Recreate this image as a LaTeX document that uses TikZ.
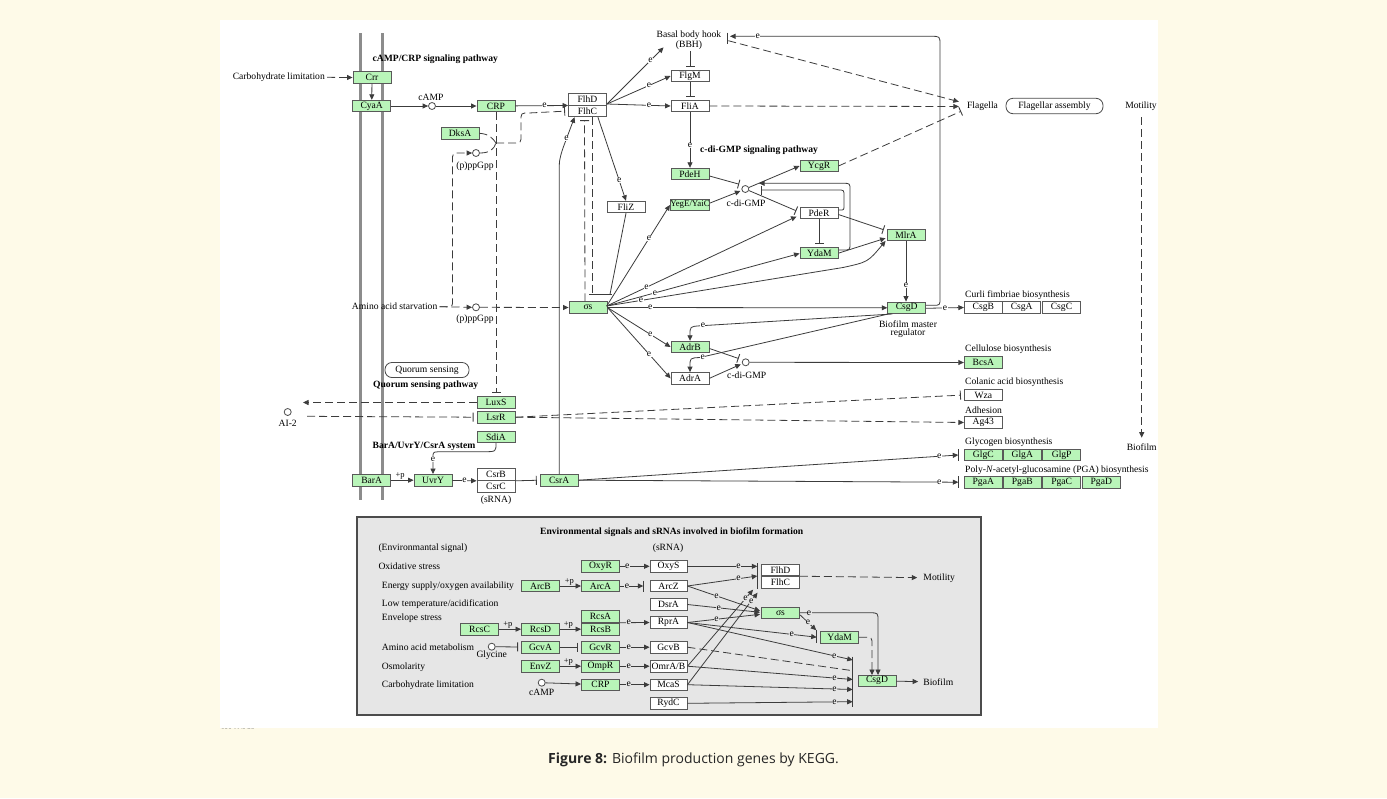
\documentclass[tikz,border=0pt]{standalone}
\usepackage{fontspec}
\setmainfont{Liberation Serif}
\newfontfamily\capfont{Open Sans}
\usetikzlibrary{arrows.meta,calc}
\definecolor{kgreen}{RGB}{185,245,185}
\definecolor{cream}{RGB}{254,250,232}
\definecolor{lin}{RGB}{60,60,60}
\definecolor{boxbg}{RGB}{230,230,230}
\definecolor{mem}{RGB}{140,140,140}
\newcommand\kf{\fontsize{9.6}{10.5}\selectfont}
\begin{document}
\begin{tikzpicture}[x=1pt,y=-1pt,font=\kf,
  gene/.style={draw=black!65, line width=0.9pt, fill=kgreen, minimum width=38pt, minimum height=11.5pt, inner sep=0pt},
  wbox/.style={gene, fill=white},
  txt/.style={inner sep=0pt},
  btxt/.style={inner sep=0pt, font=\kf\bfseries},
  cmp/.style={circle, draw=black!70, line width=0.8pt, fill=white, minimum size=7pt, inner sep=0pt},
  con/.style={draw=lin, line width=0.8pt},
  act/.style={con, -{Triangle[length=5.5pt,width=5pt]}},
  inh/.style={con, -{Bar[width=9pt,line width=0.9pt]}, shorten >=3pt},
  dsh/.style={dash pattern=on 8pt off 4pt},
  el/.style={fill=white, inner sep=0.4pt, font=\kf},
  elg/.style={el, fill=boxbg},
  pl/.style={inner sep=0pt, font=\fontsize{8.5}{9}\selectfont, anchor=south},
  pth/.style={draw=black!70, line width=0.8pt, rounded corners=7pt, minimum height=15pt, inner xsep=6pt, fill=white},
]
\useasboundingbox (0,0) rectangle (1387,798);
\fill[cream] (0,0) rectangle (1387,798);
\fill[white] (220,20) rectangle (1158,728);
\node[txt, font=\fontsize{7}{8}\selectfont, text=black!60, anchor=west] (stamp) at (221,731) {026 11/8/22};
\fill[cream] (215,728.5) rectangle (320,740);

% membrane
\draw[mem, line width=3pt] (360,33) -- (360,500);
\draw[mem, line width=3pt] (382.7,33) -- (382.7,500);

% ---------- top left ----------
\node[btxt] (t1) at (435.3,59.3) {cAMP/CRP signaling pathway};
\node[txt, anchor=east] (carb) at (325,77.3) {Carbohydrate limitation};
\node[gene] (crr) at (372,77.5) {Crr};
\node[gene] (cyaa) at (371.7,106) {CyaA};
\node[cmp] (camp) at (432,106) {};
\node[txt] (camplab) at (431,97) {cAMP};
\node[gene] (crp) at (496,106) {CRP};
\node[gene] (dksa) at (460,133.3) {DksA};
\node[cmp] (ppg1) at (476,153) {};
\node[txt] (ppg1lab) at (475,165.7) {(p)ppGpp};
\coordinate (jn) at (496,143);
\node[txt, anchor=east] (aas) at (437.5,306.7) {Amino acid starvation};
\node[cmp] (ppg2) at (476,307.3) {};
\node[txt] (ppg2lab) at (475,319) {(p)ppGpp};

\node[wbox] (flhd) at (587.5,99.3) {FlhD};
\node[wbox] (flhc) at (587.5,111) {FlhC};
\node[txt, align=center, font=\fontsize{9.6}{8.5}\selectfont] (bbh) at (689,40) {Basal body hook\\(BBH)};
\node[wbox] (flgm) at (690,76) {FlgM};
\node[wbox] (flia) at (690,106) {FliA};
\node[txt] (flag) at (982.5,106.5) {Flagella};
\node[pth, minimum width=97pt] (fasm) at (1054.5,106) {Flagellar assembly};
\node[txt] (mot) at (1141,106.5) {Motility};
\node[txt] (bio) at (1141.7,447.3) {Biofilm};

\node[wbox] (fliz) at (626,207) {FliZ};
\node[btxt] (t2) at (759,150) {c-di-GMP signaling pathway};
\node[gene] (pdeh) at (690,174) {PdeH};
\node[gene, font=\fontsize{8.8}{9}\selectfont] (yege) at (690,205) {YegE/YaiC};
\node[cmp] (cdg1) at (745.3,189) {};
\node[txt] (cdg1lab) at (746,203.3) {c-di-GMP};
\node[gene] (ycgr) at (819,166) {YcgR};
\node[wbox] (pder) at (819,213) {PdeR};
\node[gene] (ydam) at (819.5,253) {YdaM};
\node[gene] (mlra) at (906,234.7) {MlrA};
\node[gene] (csgd) at (906.7,307.8) {CsgD};
\node[txt, align=center, font=\fontsize{9.6}{8}\selectfont] (bmr) at (908,329) {Biofilm master\\regulator};
\node[gene] (sig) at (588,307.5) {σs};
\node[gene] (adrb) at (690,347) {AdrB};
\node[wbox] (adra) at (690,378.3) {AdrA};
\node[cmp] (cdg2) at (745.7,362.3) {};
\node[txt] (cdg2lab) at (746.7,375) {c-di-GMP};

% right column
\node[txt, anchor=west] (lcurli) at (965,295.3) {Curli fimbriae biosynthesis};
\node[wbox] (csgb) at (983.3,307.5) {CsgB};
\node[wbox] (csga) at (1021.7,307.5) {CsgA};
\node[wbox] (csgc) at (1061.5,307.5) {CsgC};
\node[txt, anchor=west] (lcell) at (965,349.3) {Cellulose biosynthesis};
\node[gene] (bcsa) at (983.3,362.5) {BcsA};
\node[txt, anchor=west] (lcol) at (965,382.3) {Colanic acid biosynthesis};
\node[wbox] (wza) at (983.3,395) {Wza};
\node[txt, anchor=west] (ladh) at (965,410.7) {Adhesion};
\node[wbox] (ag43) at (983.3,422.5) {Ag43};
\node[txt, anchor=west] (lgly) at (965,441.7) {Glycogen biosynthesis};
\node[gene] (glgc) at (983.3,455) {GlgC};
\node[gene] (glga) at (1022.3,455) {GlgA};
\node[gene] (glgp) at (1061.7,455) {GlgP};
\node[txt, anchor=west] (lpga) at (965,470) {Poly-\textit{N}-acetyl-glucosamine (PGA) biosynthesis};
\node[gene] (pgaa) at (983.3,482.2) {PgaA};
\node[gene] (pgab) at (1022.3,482.2) {PgaB};
\node[gene] (pgac) at (1061.7,482.2) {PgaC};
\node[gene] (pgad) at (1101.3,482.2) {PgaD};

% lower left
\node[pth, minimum width=84pt] (qs) at (427,370) {Quorum sensing};
\node[btxt] (t3) at (425.7,385.7) {Quorum sensing pathway};
\node[gene] (luxs) at (496,402.5) {LuxS};
\node[gene] (lsrr) at (496,417.2) {LsrR};
\node[gene] (sdia) at (496,437) {SdiA};
\node[cmp] (ai2) at (287.7,412) {};
\node[txt] (ai2lab) at (287.7,423.7) {AI-2};
\node[btxt] (t4) at (424,446.7) {BarA/UvrY/CsrA system};
\node[gene] (bara) at (371.7,480.2) {BarA};
\node[gene] (uvry) at (433,480.2) {UvrY};
\node[wbox] (csrb) at (496,474.6) {CsrB};
\node[wbox] (csrc) at (496,486.4) {CsrC};
\node[txt] (srna) at (496,500) {(sRNA)};
\node[gene] (csra) at (559.2,480.2) {CsrA};

% ---------- top connectors ----------
\draw[act, dsh, shorten <=2pt] (carb.east) -- (crr.west);
\draw[act] (crr) -- (cyaa);
\draw[act] (cyaa) -- (camp);
\draw[act] (camp) -- (crp);
\draw[act] (crp) -- node[el, pos=0.55]{e} (flhd.south west);
\draw[inh, dsh] (crp) -- (luxs.north);
\draw[con, dsh] (dksa.east) .. controls (490,134) and (493,139) .. (jn);
\draw[con, dsh] (ppg1.east) .. controls (490,153) and (494,149) .. (jn);
\draw[inh, dsh] (jn) -- (513,143) .. controls (521,143) .. (521,135) -- (521,121) .. controls (521,113) .. (529,113) -- (flhc.west);
\draw[act, dsh, shorten <=2pt] (aas.east) -- (ppg2.west);
\draw[act, dsh, shorten <=2pt] (aas.east) -- (447,306.7) .. controls (452.5,306.7) .. (452.5,300) -- (452.5,161) .. controls (452.5,153) .. (460,153) -- (ppg1.west);
\draw[act, dsh] (ppg2) -- (sig.west);
\coordinate (luxsend) at (303,402.5);
\draw[act, dsh] (luxs.west) -- (luxsend);
\coordinate (ai2s) at (307,416.3);
\draw[inh, dsh] (ai2s) -- (lsrr.west);
\draw[inh, dsh] (lsrr.east) -- (wza.west);
\draw[act, dsh] (lsrr.east) -- (ag43.west);
\draw[act] (sdia.south) .. controls (496,451.7) .. (484,451.7) -- (445,451.7) .. controls (433.5,451.7) .. (433,455) -- node[el, pos=0.2]{e} (uvry.north);
\draw[act] (bara) -- node[pl, pos=0.4]{+p} (uvry);
\draw[act] (uvry) -- node[el]{e} (csrb.south west);
\draw[inh] (csrb.south east) -- (csra.west);
\draw[act] (csra.north) -- (559.2,175) .. controls (559.2,160) .. (563,148) -- node[el, pos=0.3]{e} ($(flhc.south west)+(6.5,0)$);
\coordinate (glgbar) at (958.3,455);
\coordinate (pgabar) at (958.3,482.2);
\draw[act] (csra.east) -- node[el, pos=0.95]{e} (glgbar);
\draw[act] (csra.east) -- node[el, pos=0.95]{e} (pgabar);
\draw[con] (958.3,449.2) -- (958.3,460.8);
\draw[con] (958.3,476.4) -- (958.3,488);

\coordinate (fo) at (607,104);
\draw[act] (fo) -- node[el, pos=0.77]{e} ($(bbh.south west)+(7,-2)$);
\draw[act] (fo) -- node[el, pos=0.66]{e} (flgm.west);
\draw[act] (fo) -- node[el, pos=0.66]{e} (flia.west);
\draw[inh] ($(bbh.south)+(1,2)$) -- (flgm.north);
\draw[inh] (flgm) -- (flia);
\draw[act] (flia) -- node[el, pos=0.6]{e} (pdeh);
\draw[act, dsh, shorten >=8pt] (flia.east) -- (flag.west);
\draw[con] (727.3,32.7) -- (727.3,44);
\coordinate (bbhd) at (728.3,40.7);
\draw[act, dsh] (bbhd) -- ($(flag.west)+(-8,-4.8)$);
\draw[inh, dsh] (ycgr.east) -- ($(flag.west)+(-3,3.5)$);
\draw[act] ($(csgd.east)+(0,-2.5)$) -- (933,305.3) .. controls (940,305.3) .. (940,298) -- (940,45) .. controls (940,36.3) .. (931,36.3) -- node[el, pos=0.862]{e} (730,36.3);
\draw[act] ($(csgd.east)+(0,0.5)$) -- node[el]{e} (csgb.west);
\draw[act] ($(flhc.south east)+(-9,0)$) -- node[el, pos=0.755]{e} (fliz.north);
\draw[con] (589.3,294.3) -- (611.7,294.3);
\draw[con, dsh] ($(flhc.south)+(5,0)$) -- (592.5,294.3);
\draw[con] (fliz.south) -- (610,294.3);
\draw[inh, dsh] ($(sig.north)+(-3,0)$) -- ($(flhc.south)+(-3,0)$);

\coordinate (so) at (606.7,306);
\draw[act] (so) -- node[el, pos=0.67]{e} (yege.west);
\draw[act] (so) -- node[el, pos=0.21]{e} ($(pder.west)+(-3,3.5)$);
\draw[act] (so) -- node[el, pos=0.25]{e} ($(ydam.west)+(-0.5,0.5)$);
\draw[act] (so) -- node[el, pos=0.145]{e} (843,267.5) .. controls (868,262) .. ($(mlra.south west)+(-1,0)$);
\draw[act] (sig.east) -- node[el, pos=0.153]{e} (csgd.west);
\draw[act] (sig.east) -- node[el, pos=0.68]{e} (adrb.west);
\draw[act] (sig.east) -- node[el, pos=0.66]{e} (adra.west);
\draw[act] (mlra.south) -- node[el, pos=0.73]{e} (mlra.south |- csgd.north);
\draw[act] ($(csgd.south west)+(5,0)$) -- node[el, pos=0.985]{e} (700,325.8) .. controls (690,326.5) .. (690,335) -- (adrb.north);
\draw[act] ($(csgd.south west)+(1,0)$) -- node[el, pos=0.985]{e} (700,357.5) .. controls (690,358) .. (690,366) -- (adra.north);
\draw[inh] ($(adrb.east)+(0,1.5)$) -- (741.5,359.5);
\draw[act] (adra.east) -- ($(cdg2.west)+(-1,2)$);
\draw[act] (cdg2) -- (bcsa.west);
\draw[inh] ($(pdeh.east)+(0,2)$) -- (742,185);
\draw[act] ($(yege.east)+(0,-2)$) -- ($(cdg1.west)+(-1,2)$);
\draw[act] (cdg1) -- (ycgr.west);
\draw[inh] (cdg1) -- ($(pder.west)+(-0.5,-1)$);
\draw[inh] (pder.south) -- (pder.south |- ydam.north);
\draw[inh] ($(pder.east)+(0,1.5)$) -- ($(mlra.west)+(0,-4)$);
\draw[act] (ydam.east) -- ($(mlra.west)+(-1,3.5)$);
\draw[act] ($(ydam.east)+(0,-3)$) -- (843,250) .. controls (850,250) .. (850,243) -- (850,190) .. controls (850,183.3) .. (843,183.3) -- (759,183.3);
\draw[inh] ($(pder.east)+(0,-3)$) -- (840,210) .. controls (844,210) .. (844,205) -- (844,196) .. controls (844,190) .. (838,190) -- (758,190);
\draw[act, dsh] ($(mot.south)+(0.7,6)$) -- ($(bio.north)+(0,-6)$);

% ---------- bottom box ----------
\draw[draw=black!70, line width=1.8pt, fill=boxbg] (357.3,516.7) rectangle (981,715);
\node[btxt] (t5) at (671.7,531.7) {Environmental signals and sRNAs involved in biofilm formation};
\node[txt, anchor=west] (envsig) at (378.3,547.7) {(Environmantal signal)};
\node[txt] (srnah) at (668,547.7) {(sRNA)};
\node[txt, anchor=west] (s1) at (378.3,566.7) {Oxidative stress};
\node[txt, anchor=west] (s2) at (381.7,586) {Energy supply/oxygen availability};
\node[txt, anchor=west] (s3) at (381.7,604.3) {Low temperature/acidification};
\node[txt, anchor=west] (s4) at (381.7,618.3) {Envelope stress};
\node[txt, anchor=west] (s5) at (381.7,647.7) {Amino acid metabolism};
\node[txt, anchor=west] (s6) at (381.7,666.7) {Osmolarity};
\node[txt, anchor=west] (s7) at (381.7,685) {Carbohydrate limitation};

\node[gene] (oxyr) at (600.5,566.3) {OxyR};
\node[gene] (arcb) at (540.5,586) {ArcB};
\node[gene] (arca) at (600.5,586) {ArcA};
\node[gene] (rcsa) at (600.5,616.2) {RcsA};
\node[gene] (rcsb) at (600.5,629.2) {RcsB};
\node[gene] (rcsc) at (479.5,629.2) {RcsC};
\node[gene] (rcsd) at (540.5,629.2) {RcsD};
\node[gene] (gcva) at (540.5,647.2) {GcvA};
\node[gene] (gcvr) at (600.5,647.2) {GcvR};
\node[gene] (envz) at (540.5,666.2) {EnvZ};
\node[gene] (ompr) at (600.5,666.2) {OmpR};
\node[gene] (crp2) at (600.5,684.7) {CRP};
\node[cmp] (glyc) at (491.7,646.7) {};
\node[txt] (glyclab) at (491.7,655.5) {Glycine};
\node[cmp] (camp2) at (541.7,682.7) {};
\node[txt] (camp2lab) at (541.7,692) {cAMP};
\node[wbox, minimum width=37pt] (oxys) at (668.5,566.3) {OxyS};
\node[wbox, minimum width=37pt] (arcz) at (668.5,586) {ArcZ};
\node[wbox, minimum width=37pt] (dsra) at (668.5,604.5) {DsrA};
\node[wbox, minimum width=37pt] (rpra) at (668.5,622.5) {RprA};
\node[wbox, minimum width=37pt] (gcvb) at (668.5,647.2) {GcvB};
\node[wbox, minimum width=37pt] (omra) at (668.5,666.2) {OmrA/B};
\node[wbox, minimum width=37pt] (mcas) at (668.5,684.7) {McaS};
\node[wbox, minimum width=37pt] (rydc) at (668.5,703.3) {RydC};
\node[wbox] (flhd2) at (780.5,570) {FlhD};
\node[wbox] (flhc2) at (780.5,582.5) {FlhC};
\node[gene] (sig2) at (780.5,612.8) {σs};
\node[gene] (ydam2) at (839.7,637.2) {YdaM};
\node[gene] (csgd2) at (877,680.8) {CsgD};
\node[txt] (mot2) at (939.2,577.7) {Motility};
\node[txt] (bio2) at (938.3,681.7) {Biofilm};

\draw[act] (oxyr) -- node[elg, pos=0.25]{e} (oxys);
\draw[act] (arcb) -- node[pl, pos=0.45]{+p} (arca);
\draw[act] (arca) -- node[elg, pos=0.3]{e} (643.3,586);
\draw[con] (643.3,580.5) -- (643.3,591.5);
\draw[act] (rcsc) -- node[pl, pos=0.4]{+p} (rcsd);
\draw[act] (rcsd) -- node[pl, pos=0.4]{+p} (rcsb.west);
\draw[act] ($(rcsa.south east)!0.5!(rcsb.north east)$) -- node[elg, pos=0.3]{e} (rpra.west);
\draw[inh] (glyc) -- (gcva);
\draw[inh] (gcva) -- (gcvr);
\draw[act] (gcvr) -- node[elg, pos=0.3]{e} (gcvb);
\draw[act] (envz) -- node[pl, pos=0.4]{+p} (ompr);
\draw[act] (ompr) -- node[elg, pos=0.3]{e} (omra);
\draw[act] (camp2) -- (crp2);
\draw[act] (crp2) -- node[elg, pos=0.3]{e} (mcas);

\draw[con] (757.3,563) -- (757.3,588.5);
\draw[con] (852.7,656.7) -- (852.7,706.7);
\draw[con] (816.7,629.5) -- (816.7,643);
\draw[act] (oxys.east) -- node[elg, pos=0.73]{e} (757.3,566.3);
\draw[act] (arcz.east) -- node[elg, pos=0.73]{e} (757.3,576);
\draw[act] (arcz.east) -- node[elg, pos=0.4]{e} ($(sig2.west)+(-1,-2)$);
\draw[act] (dsra.east) -- node[elg, pos=0.43]{e} ($(sig2.west)+(-1,-0.5)$);
\draw[act] (rpra.east) -- node[elg, pos=0.4]{e} ($(sig2.west)+(-1,1.5)$);
\draw[act] (rpra.east) -- node[elg, pos=0.807]{e} (816.7,637.2);
\draw[act] (rpra.east) -- node[elg, pos=0.889]{e} (852.7,660);
\draw[con, dsh] (gcvb.east) -- (852.7,670.7);
\draw[act] (omra.east) -- node[elg, pos=0.89]{e} (852.7,679.5);
\draw[act] (mcas.east) -- node[elg, pos=0.89]{e} (852.7,689.5);
\draw[act] (rydc.east) -- node[elg, pos=0.89]{e} (852.7,701.7);
\draw[act] (omra.east) -- node[elg, pos=0.885]{e} ($(flhc2.south west)+(-8,1)$);
\draw[act] (mcas.east) -- node[elg, pos=0.91]{e} ($(flhc2.south west)+(-3.5,4)$);
\draw[act] (sig2.east) -- node[elg, pos=0.13]{e} (870,612.8) .. controls (878,612.8) .. (878,621) -- (878,675.05);
\draw[act, dsh] ($(sig2.east)+(0,2)$) -- node[elg, pos=0.5]{e} ($(ydam2.west)+(-4,-7)$);
\draw[act, dsh] (ydam2.east) -- (864,637.2) .. controls (872,637.2) .. (872,645) -- (872,675.05);
\draw[act, shorten >=5pt] (csgd2) -- (bio2.west);
\draw[act, dsh, shorten >=6pt] (flhd2.south east) -- (mot2.west);

% caption
\node[font=\capfont\fontsize{14}{16}\selectfont, text=black!85] (cap) at (693.5,760) {\textbf{Figure 8:} Biofilm production genes by KEGG.};
\end{tikzpicture}
\end{document}
